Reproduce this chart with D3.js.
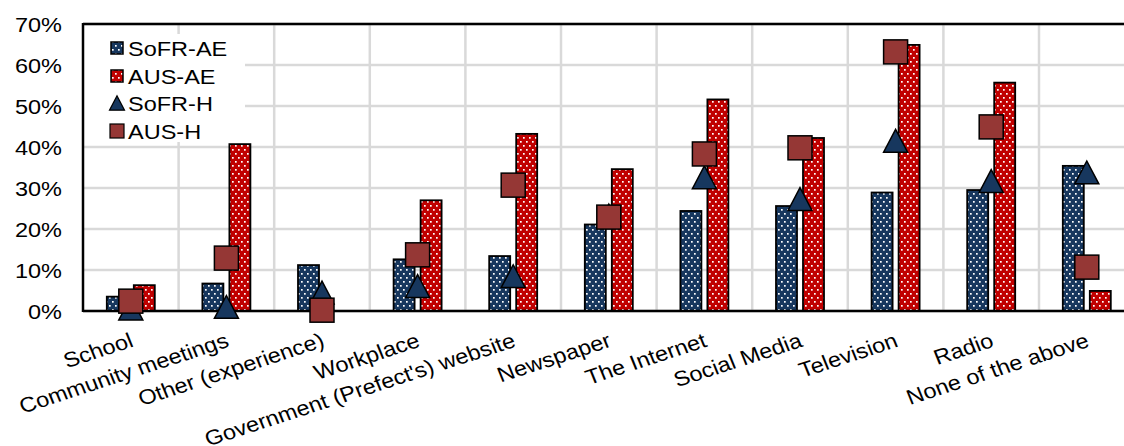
<!DOCTYPE html>
<html>
<head>
<meta charset="utf-8">
<script src="https://cdn.jsdelivr.net/npm/d3@7"></script>
<style>
  body { margin: 0; background: #fff; }
  svg { display: block; font-family: "Liberation Sans", Arial, sans-serif; }
</style>
</head>
<body>
<div id="chart"></div>
<script>
// ---------------- data ----------------
const categories = ['School', 'Community meetings', 'Other (experience)', 'Workplace',
  "Government (Prefect's) website", 'Newspaper', 'The Internet', 'Social Media',
  'Television', 'Radio', 'None of the above'];
const sofrAE = [3.5, 6.7, 11.2, 12.6, 13.4, 21.1, 24.4, 25.6, 28.9, 29.5, 35.4];
const ausAE = [6.3, 40.7, 0, 27.0, 43.2, 34.6, 51.6, 42.2, 64.9, 55.7, 4.9];
const sofrH = [0.6, 1.0, 4.5, 6.1, 8.5, 23.3, 32.6, 27.3, 41.5, 31.7, 33.8];
const ausH = [2.4, 12.9, 0.2, 13.7, 30.7, 22.9, 38.3, 39.8, 63.2, 44.9, 10.7];
const yTicks = [0, 10, 20, 30, 40, 50, 60, 70];
const legendNames = ['SoFR-AE', 'AUS-AE', 'SoFR-H', 'AUS-H'];

// ---------------- layout ----------------
const width = 1124;
const height = 446;
const plotLeft = 83, plotTop = 24, plotBottom = 311;
const bandW = 95.6;
const plotRight = plotLeft + bandW * categories.length;
const blue = '#17375e';
const red = '#c00000';
const brown = '#953735';
const fontSize = 21;
const stretch = 1.12; // text looks a bit wide in the original

const svg = d3.select('#chart').append('svg')
  .attr('width', width)
  .attr('height', height);

// patterns
const defs = svg.append('defs');
function dotPattern(id, color) {
  const p = defs.append('pattern')
    .attr('id', id)
    .attr('patternUnits', 'userSpaceOnUse')
    .attr('width', 6)
    .attr('height', 8);
  p.append('rect').attr('width', 6).attr('height', 8).attr('fill', color);
  p.append('rect').attr('x', 1).attr('y', 1).attr('width', 1.7).attr('height', 1.7).attr('fill', '#fff');
  p.append('rect').attr('x', 4).attr('y', 5).attr('width', 1.7).attr('height', 1.7).attr('fill', '#fff');
}
dotPattern('dotBlue', blue);
dotPattern('dotRed', red);

// scales
const x = d3.scaleBand().domain(categories).range([plotLeft, plotRight]);
const y = d3.scaleLinear().domain([0, 70]).range([plotBottom, plotTop]);
const cx = i => x(categories[i]) + x.bandwidth() / 2;

// gridlines
const grid = svg.append('g').attr('class', 'grid');
grid.selectAll('.hgrid').data(yTicks).join('line')
  .attr('x1', plotLeft).attr('x2', plotRight)
  .attr('y1', d => y(d)).attr('y2', d => y(d))
  .attr('stroke', '#d9d9d9').attr('stroke-width', 2.5);
grid.selectAll('.vgrid').data(categories.slice(1)).join('line')
  .attr('x1', d => x(d)).attr('x2', d => x(d))
  .attr('y1', plotTop).attr('y2', plotBottom)
  .attr('stroke', '#d9d9d9').attr('stroke-width', 2.5);

// legend background (hides grid)
svg.append('rect')
  .attr('x', plotLeft + 1).attr('y', 34)
  .attr('width', 161).attr('height', 108)
  .attr('fill', '#fff');

// bars
const barW = 21;
const bars = svg.append('g').attr('class', 'bars');
bars.selectAll('.b1').data(sofrAE.map((v, i) => ({ v, i }))).join('rect')
  .attr('x', d => cx(d.i) - 24)
  .attr('y', d => y(d.v))
  .attr('width', barW)
  .attr('height', d => y(0) - y(d.v))
  .attr('fill', 'url(#dotBlue)')
  .attr('stroke', '#000').attr('stroke-width', 1.8);
bars.selectAll('.b2').data(ausAE.map((v, i) => ({ v, i })).filter(d => d.v > 0)).join('rect')
  .attr('x', d => cx(d.i) + 3)
  .attr('y', d => y(d.v))
  .attr('width', barW)
  .attr('height', d => y(0) - y(d.v))
  .attr('fill', 'url(#dotRed)')
  .attr('stroke', '#000').attr('stroke-width', 1.8);

// axes / plot border
svg.append('line').attr('x1', plotLeft).attr('x2', plotRight).attr('y1', plotTop).attr('y2', plotTop)
  .attr('stroke', '#000').attr('stroke-width', 2.5);
svg.append('line').attr('x1', plotLeft).attr('x2', plotLeft).attr('y1', plotTop - 1).attr('y2', plotBottom + 1)
  .attr('stroke', '#000').attr('stroke-width', 2.5);
svg.append('line').attr('x1', plotLeft).attr('x2', plotRight).attr('y1', plotBottom).attr('y2', plotBottom)
  .attr('stroke', '#000').attr('stroke-width', 2.5);

// markers
function triPath(s) {
  const h = s * 0.95;
  return `M0,${-h / 2} L${s / 2},${h / 2} L${-s / 2},${h / 2} Z`;
}
const markers = svg.append('g').attr('class', 'markers');
markers.selectAll('.t').data(sofrH).join('path')
  .attr('d', triPath(24))
  .attr('transform', (d, i) => `translate(${cx(i)},${y(d)})`)
  .attr('fill', blue)
  .attr('stroke', '#000').attr('stroke-width', 1.5);
markers.selectAll('.s').data(ausH).join('rect')
  .attr('x', (d, i) => cx(i) - 12)
  .attr('y', d => y(d) - 12)
  .attr('width', 24).attr('height', 24)
  .attr('fill', brown)
  .attr('stroke', '#000').attr('stroke-width', 1.5);

// y axis labels
svg.append('g').selectAll('g').data(yTicks).join('g')
  .attr('transform', d => `translate(62,${y(d)}) scale(${stretch},1)`)
  .append('text')
  .attr('dy', '0.36em')
  .attr('text-anchor', 'end')
  .attr('font-size', fontSize)
  .attr('fill', '#000')
  .text(d => `${d}%`);

// x axis labels
svg.append('g').selectAll('g').data(categories).join('g')
  .attr('transform', d => `translate(${x(d) + x.bandwidth() / 2 - 2},${plotBottom + 21}) scale(${stretch},1)`)
  .append('text')
  .attr('transform', 'rotate(-20)')
  .attr('dy', '0.72em')
  .attr('text-anchor', 'end')
  .attr('font-size', fontSize)
  .attr('fill', '#000')
  .text(d => d);

// legend
const legend = svg.append('g').attr('class', 'legend');
const rowY = [48, 76, 103, 131];
legendNames.forEach((name, i) => {
  const g = legend.append('g').attr('transform', `translate(117,${rowY[i]})`);
  if (i === 0 || i === 1) {
    g.append('rect').attr('x', -6).attr('y', -6).attr('width', 12).attr('height', 12)
      .attr('fill', i === 0 ? 'url(#dotBlue)' : 'url(#dotRed)')
      .attr('stroke', '#000').attr('stroke-width', 1.5);
  } else if (i === 2) {
    g.append('path').attr('d', triPath(15)).attr('fill', blue)
      .attr('stroke', '#000').attr('stroke-width', 1.2);
  } else {
    g.append('rect').attr('x', -7).attr('y', -7).attr('width', 14).attr('height', 14)
      .attr('fill', brown).attr('stroke', '#000').attr('stroke-width', 1.2);
  }
  g.append('g').attr('transform', `translate(11,0) scale(${stretch},1)`)
    .append('text')
    .attr('dy', '0.36em')
    .attr('font-size', fontSize)
    .attr('fill', '#000')
    .text(name);
});
</script>
</body>
</html>
